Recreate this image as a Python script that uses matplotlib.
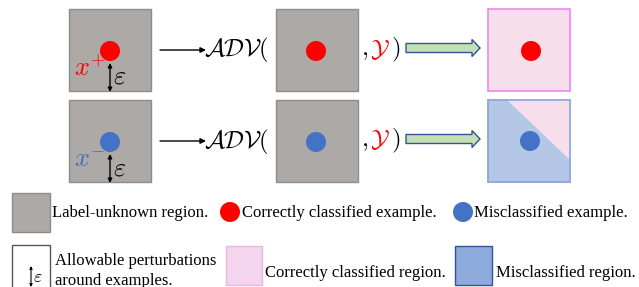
import matplotlib.pyplot as plt
from matplotlib.patches import Rectangle, Circle, Polygon, FancyArrow

plt.rcParams['mathtext.fontset'] = 'cm'

# layout in pixel coordinates (y grows downward)
row_y = [50, 141]           # vertical centre of each row
row_dot = ['#FF0000', '#4472C4']
row_sup = ['+', '-']
legend_top = ['Label-unknown region.', 'Correctly classified example.', 'Misclassified example.']
legend_bot = ['Allowable perturbations\naround examples.', 'Correctly classified region.', 'Misclassified region.']

gray = '#ADA9A7'
gray_edge = '#8C8C8C'
pink = '#F6DEEB'
pink_edge = '#EE88EE'
blue_reg = '#B4C7E7'
blue_edge = '#8FAADC'
serif = 'Liberation Serif'

fig = plt.figure(figsize=(6.39, 2.87), dpi=100)
ax = fig.add_axes([0, 0, 1, 1])
ax.set_xlim(0, 639)
ax.set_ylim(287, 0)
ax.axis('off')

half = 41
for i, yc in enumerate(row_y):
    col = row_dot[i]
    # left gray box with example and epsilon
    ax.add_patch(Rectangle((69, yc - half), 82, 82, fc=gray, ec=gray_edge, lw=1))
    ax.add_patch(Circle((110, yc + 1), 10, fc=col, ec='none'))
    ax.annotate('', xy=(110, yc + 42), xytext=(110, yc + 13),
                arrowprops=dict(arrowstyle='<|-|>', color='black', lw=1,
                                mutation_scale=6, shrinkA=0, shrinkB=0))
    ax.text(113, yc + 27, r'$\varepsilon$', fontsize=19, color='black', va='center', ha='left')
    ax.text(74, yc + 19, r'$x^{%s}$' % row_sup[i], fontsize=19, color=col, va='center', ha='left')

    # thin arrow and ADV(
    ax.annotate('', xy=(206, yc), xytext=(160, yc),
                arrowprops=dict(arrowstyle='-|>', color='black', lw=1,
                                mutation_scale=8, shrinkA=0, shrinkB=0))
    ax.text(204, yc, r'$\mathcal{ADV}($', fontsize=18, va='center', ha='left')

    # middle gray box
    ax.add_patch(Rectangle((276, yc - half), 82, 82, fc=gray, ec=gray_edge, lw=1))
    ax.add_patch(Circle((316, yc + 1), 10, fc=col, ec='none'))
    ax.text(361, yc, r'$,$', fontsize=18, va='center', ha='left')
    ax.text(370, yc - 1, r'$\mathcal{Y}$', fontsize=18, color='#FF0000', va='center', ha='left')
    ax.text(391, yc, r'$)$', fontsize=18, va='center', ha='left')

    # green block arrow
    ax.add_patch(FancyArrow(406, yc - 2, 74, 0, width=9, head_width=17, head_length=8,
                            length_includes_head=True, fc='#C5E0B4', ec='#2F5597', lw=1))

# right result boxes
ax.add_patch(Rectangle((488, row_y[0] - half), 82, 82, fc=pink, ec=pink_edge, lw=1.2))
ax.add_patch(Circle((531, row_y[0] + 1), 10, fc='#FF0000', ec='none'))

ax.add_patch(Rectangle((488, row_y[1] - half), 82, 82, fc=blue_reg, ec=blue_edge, lw=1.2))
ax.add_patch(Polygon([(507, row_y[1] - half), (570, row_y[1] - half), (570, row_y[1] + 19)],
                     closed=True, fc=pink, ec='none'))
ax.add_patch(Rectangle((488, row_y[1] - half), 82, 82, fc='none', ec=blue_edge, lw=1.2))
ax.add_patch(Circle((530, row_y[1]), 10, fc='#4472C4', ec='none'))

# legend, first row
ax.add_patch(Rectangle((12, 193), 38, 39, fc=gray, ec=gray_edge, lw=1))
ax.text(52, 213, legend_top[0], fontsize=12, family=serif, va='center', ha='left')
ax.add_patch(Circle((230, 212), 10, fc='#FF0000', ec='none'))
ax.text(242, 213, legend_top[1], fontsize=12, family=serif, va='center', ha='left')
ax.add_patch(Circle((463, 212), 10, fc='#4472C4', ec='none'))
ax.text(474, 213, legend_top[2], fontsize=12, family=serif, va='center', ha='left')

# legend, second row
ax.add_patch(Rectangle((12, 245), 38, 50, fc='white', ec='#555555', lw=1, clip_on=True))
ax.annotate('', xy=(31, 287), xytext=(31, 266),
            arrowprops=dict(arrowstyle='<|-|>', color='black', lw=0.8,
                            mutation_scale=4, shrinkA=0, shrinkB=0))
ax.text(33, 277, r'$\varepsilon$', fontsize=13, va='center', ha='left')
ax.text(55, 253, legend_bot[0], fontsize=12, family=serif, va='top', ha='left',
        linespacing=1.3, clip_on=True)
ax.add_patch(Rectangle((226, 246), 36, 39, fc='#F4D5EE', ec='#EEB4E4', lw=1))
ax.text(265, 273, legend_bot[1], fontsize=12, family=serif, va='center', ha='left')
ax.add_patch(Rectangle((455, 246), 37, 39, fc='#8FAADC', ec='#2F5597', lw=1))
ax.text(496, 273, legend_bot[2], fontsize=12, family=serif, va='center', ha='left')

fig.savefig('out.png', dpi=100)
